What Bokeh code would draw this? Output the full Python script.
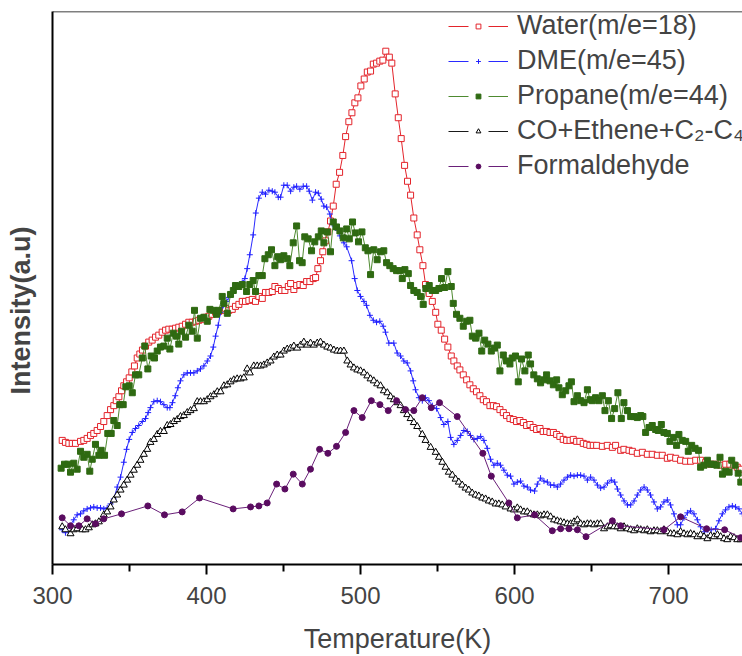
from bokeh.plotting import figure
from bokeh.models import (ColumnDataSource, FixedTicker, Range1d, Legend, LegendItem,
                          Title, Span)
from bokeh.embed import file_html
from bokeh.resources import INLINE

# ---------------- data (temperature in K, intensity in a.u.) ----------------
x_ticks = [300, 400, 500, 600, 700]
x_minor = [350, 450, 550, 650, 750]

water_T = [306.3, 308.4, 310.6, 312.8, 314.9, 318.2, 320.3, 322.5, 324.7, 326.8, 329.0, 331.2,
           333.3, 335.5, 337.7, 339.8, 341.4, 343.1, 344.8, 346.3, 348.1, 349.8, 351.5, 353.2,
           355.0, 356.7, 358.4, 360.4, 362.5, 364.7, 366.9, 369.0, 371.2, 373.4, 375.5, 377.7,
           379.9, 382.0, 384.2, 386.4, 388.5, 390.7, 392.9, 395.0, 397.2, 399.4, 401.5, 403.7,
           405.9, 408.0, 410.2, 412.3, 414.5, 416.7, 418.8, 421.0, 423.2, 425.3, 427.5, 429.7,
           431.8, 434.0, 436.2, 438.3, 440.5, 442.7, 444.4, 446.6, 448.7, 450.9, 453.1, 454.6,
           456.7, 458.5, 460.6, 462.8, 465.0, 467.1, 469.3, 470.8, 472.3, 474.0, 475.5, 477.3,
           478.8, 480.5, 482.3, 484.2, 486.4, 488.5, 490.3, 492.4, 494.4, 496.3, 498.3, 500.2,
           502.4, 504.4, 506.5, 508.3, 510.4, 512.5, 514.5, 516.4, 518.7, 520.3, 522.5, 524.5,
           526.4, 528.6, 530.5, 532.5, 534.6, 536.8, 538.5, 540.5, 542.2, 544.6, 546.6, 548.8,
           550.2, 552.4, 554.6, 556.7, 558.9, 560.6, 562.8, 564.5, 566.7, 568.9, 571.0, 573.2,
           575.3, 577.5, 579.7, 581.8, 584.0, 586.2, 588.3, 590.5, 592.7, 594.8, 597.0, 599.2,
           601.3, 603.5, 605.7, 607.8, 610.0, 612.1, 614.3, 616.5, 618.6, 620.8, 623.0, 625.2,
           627.3, 629.4, 631.6, 633.8, 636.0, 638.1, 640.3, 642.4, 644.6, 646.8, 648.9, 651.1,
           653.3, 657.0, 660.2, 663.5, 665.6, 668.9, 671.0, 674.3, 676.5, 679.7, 683.0, 686.2,
           689.4, 692.7, 695.9, 699.2, 701.3, 704.6, 707.8, 711.1, 714.3, 717.6, 720.8, 724.1,
           727.3, 730.6, 733.8, 737.1, 739.8, 742.4, 744.6, 747.2]
water_I = [125, 123, 122, 122, 122, 124, 125, 127, 130, 132, 135, 139,
           144, 150, 156, 160, 165, 169, 175, 180, 184, 188, 194, 200,
           208, 212, 216, 220, 224, 226, 229, 231, 234, 236, 237, 237,
           238, 239, 240, 242, 244, 244, 245, 246, 247, 249, 250, 252,
           254, 255, 256, 258, 256, 257, 260, 262, 265, 265, 266, 267,
           265, 270, 268, 274, 274, 275, 280, 278, 276, 276, 280, 283,
           277, 281, 282, 281, 285, 285, 288, 289, 298, 306, 315, 326,
           335, 346, 361, 383, 395, 412, 431, 446, 455, 465, 470, 482,
           489, 496, 497, 504, 505, 507, 508, 517, 511, 505, 474, 450,
           429, 402, 386, 372, 349, 332, 317, 301, 282, 273, 265, 254,
           242, 236, 227, 219, 210, 205, 200, 196, 191, 186, 181, 177,
           174, 170, 166, 164, 160, 160, 159, 156, 153, 150, 147, 146,
           144, 145, 143, 140, 141, 138, 136, 137, 134, 134, 133, 133,
           131, 129, 126, 125, 125, 126, 124, 124, 122, 121, 120, 120,
           120, 119, 120, 118, 120, 115, 116, 115, 114, 112, 113, 111,
           111, 110, 110, 107, 108, 107, 105, 104, 104, 105, 105, 103,
           101, 101, 100, 101, 101, 100, 98, 96]

dme_T = [306.3, 308.4, 313.8, 316.0, 318.2, 320.3, 322.5, 324.7, 326.8, 329.0, 331.2, 333.3,
         335.5, 337.7, 339.8, 342.0, 344.2, 346.3, 348.1, 349.8, 351.8, 353.9, 356.0, 358.3,
         360.4, 362.1, 363.6, 365.8, 368.0, 370.1, 372.3, 374.5, 376.2, 377.9, 379.7, 381.4,
         383.1, 385.3, 387.5, 389.6, 391.8, 394.0, 396.1, 398.3, 400.5, 402.6, 404.4, 405.9,
         407.6, 409.1, 410.9, 412.8, 414.5, 416.7, 418.8, 421.0, 423.2, 424.9, 426.4, 428.1,
         430.3, 432.0, 434.0, 436.2, 438.3, 440.5, 442.7, 444.4, 446.6, 448.1, 450.2, 452.4,
         454.6, 456.7, 458.5, 460.6, 462.8, 465.0, 466.7, 468.7, 470.8, 472.6, 474.5, 476.2,
         478.0, 480.1, 481.7, 483.8, 486.6, 489.2, 491.0, 494.2, 496.2, 497.9, 500.0, 502.2,
         503.9, 506.1, 508.3, 510.4, 512.5, 514.7, 516.2, 518.4, 521.6, 523.8, 526.0, 528.1,
         530.3, 532.5, 534.2, 535.7, 537.9, 540.1, 542.2, 544.4, 546.6, 549.4, 552.0, 554.1,
         556.7, 558.5, 560.6, 562.8, 565.0, 567.1, 569.3, 571.4, 573.6, 575.8, 578.0, 580.1,
         582.3, 584.4, 586.6, 588.8, 590.9, 593.1, 595.3, 597.4, 599.6, 601.8, 603.9, 606.1,
         608.3, 610.4, 613.0, 614.8, 616.9, 619.1, 621.3, 623.4, 625.6, 627.8, 629.9, 632.1,
         634.3, 636.4, 638.6, 640.8, 642.9, 645.1, 647.3, 649.4, 651.6, 653.8, 655.9, 658.1,
         660.3, 662.8, 665.0, 666.8, 668.9, 671.1, 673.3, 675.4, 677.6, 679.7, 681.9, 684.1,
         686.2, 688.3, 690.5, 692.7, 694.8, 697.0, 699.2, 701.3, 703.5, 705.7, 707.8, 710.0,
         712.2, 714.3, 716.5, 718.7, 720.8, 723.4, 725.5, 727.7, 730.5, 732.7, 734.9, 737.0,
         739.2, 741.4, 743.5, 745.7, 747.9]
dme_I = [35, 32, 45, 50, 51, 54, 56, 57, 58, 57, 57, 56,
         57, 61, 66, 78, 88, 103, 116, 126, 133, 137, 140, 144,
         147, 153, 158, 164, 165, 164, 161, 158, 158, 163, 170, 178,
         185, 191, 193, 193, 193, 195, 197, 200, 205, 210, 219, 230,
         241, 254, 261, 265, 269, 273, 277, 281, 284, 288, 298, 312,
         332, 354, 369, 375, 373, 377, 376, 375, 370, 370, 382, 382,
         376, 380, 381, 378, 381, 381, 376, 367, 375, 374, 368, 361,
         360, 353, 343, 339, 331, 324, 320, 306, 288, 276, 270, 265,
         261, 251, 246, 244, 245, 240, 234, 223, 223, 213, 210, 205,
         203, 195, 185, 176, 168, 165, 168, 165, 160, 157, 148, 141,
         144, 128, 121, 125, 130, 135, 134, 130, 126, 127, 129, 125,
         117, 106, 100, 102, 100, 95, 90, 89, 81, 83, 84, 79,
         78, 75, 74, 81, 87, 84, 83, 80, 80, 78, 81, 85,
         88, 90, 89, 90, 90, 89, 85, 88, 85, 80, 77, 78,
         82, 85, 83, 76, 70, 64, 60, 60, 64, 70, 75, 78,
         75, 70, 63, 56, 58, 63, 65, 60, 51, 40, 40, 47,
         52, 54, 51, 45, 38, 33, 35, 35, 36, 44, 51, 55,
         58, 59, 58, 56, 51]

propane_T = [305.6, 307.8, 309.9, 311.7, 313.8, 316.0, 318.2, 320.3, 322.5, 324.2, 325.8, 327.9,
             330.1, 331.6, 333.8, 335.9, 338.1, 339.8, 342.0, 343.7, 345.9, 347.6, 349.8, 351.8,
             353.9, 356.0, 358.3, 359.9, 361.9, 364.1, 366.2, 368.0, 370.1, 372.3, 374.5, 376.2,
             378.4, 380.5, 382.0, 383.8, 386.4, 388.5, 390.7, 392.2, 394.0, 396.1, 398.3, 400.5,
             402.2, 404.4, 406.5, 408.0, 410.2, 411.3, 413.5, 415.6, 417.4, 418.8, 421.0, 423.2,
             426.0, 428.1, 430.3, 431.8, 434.0, 436.2, 437.9, 440.1, 442.2, 444.4, 446.2, 448.1,
             450.2, 452.4, 454.1, 456.3, 458.5, 460.4, 462.1, 463.8, 466.0, 468.2, 470.3, 472.6,
             474.5, 476.2, 478.4, 480.5, 482.3, 484.4, 486.6, 488.8, 491.0, 492.7, 494.8, 496.6,
             498.7, 500.9, 503.1, 504.8, 506.5, 508.6, 510.8, 513.0, 515.1, 516.9, 519.0, 521.2,
             523.4, 525.5, 527.1, 528.8, 531.0, 532.5, 534.6, 536.8, 539.0, 540.7, 542.4, 544.6,
             546.6, 548.8, 550.9, 552.6, 554.6, 556.7, 558.9, 560.2, 562.3, 564.5, 566.7, 568.9,
             571.0, 572.6, 574.7, 576.9, 578.7, 580.6, 582.7, 584.9, 587.0, 588.8, 590.5, 592.7,
             594.8, 597.0, 598.5, 600.6, 602.4, 604.5, 606.7, 608.9, 610.4, 612.5, 614.8, 616.9,
             619.1, 620.8, 623.0, 625.2, 627.3, 628.8, 631.0, 633.2, 635.3, 636.9, 638.6, 640.8,
             642.9, 645.1, 647.3, 649.0, 650.5, 652.6, 654.8, 657.0, 658.7, 660.9, 663.0, 665.0,
             667.1, 669.3, 671.0, 673.3, 675.4, 677.6, 679.7, 681.9, 683.3, 685.1, 687.3, 689.4,
             691.6, 693.3, 695.3, 697.0, 699.2, 700.9, 703.1, 705.2, 706.7, 708.9, 711.1, 712.8,
             715.0, 717.2, 719.4, 720.8, 723.0, 725.2, 727.3, 729.5, 731.3, 733.4, 735.0, 737.1,
             739.3, 741.0, 743.2, 745.2, 746.9]
propane_I = [97, 101, 101, 93, 102, 96, 114, 108, 111, 94, 106, 121,
             110, 115, 110, 132, 132, 145, 140, 161, 161, 179, 180, 173,
             191, 191, 208, 220, 197, 210, 208, 215, 219, 220, 228, 217,
             233, 230, 222, 235, 229, 241, 235, 256, 228, 248, 249, 245,
             257, 256, 252, 256, 270, 263, 253, 272, 276, 281, 280, 282,
             275, 282, 286, 275, 291, 291, 308, 312, 317, 301, 310, 307,
             311, 308, 301, 324, 341, 306, 304, 330, 328, 316, 325, 330,
             336, 324, 335, 315, 345, 340, 336, 329, 338, 328, 345, 334,
             325, 335, 319, 316, 292, 317, 307, 315, 316, 304, 301, 298,
             296, 296, 288, 297, 293, 281, 276, 274, 270, 262, 278, 281,
             276, 276, 278, 288, 279, 295, 280, 263, 252, 248, 240, 245,
             246, 230, 228, 233, 215, 226, 222, 215, 218, 221, 195, 211,
             205, 202, 208, 210, 184, 207, 195, 211, 202, 191, 187, 183,
             186, 191, 185, 181, 186, 178, 171, 175, 180, 184, 164, 170,
             165, 163, 176, 166, 165, 168, 165, 170, 155, 165, 147, 157,
             173, 147, 163, 155, 149, 149, 148, 150, 149, 133, 138, 140,
             136, 135, 141, 133, 132, 124, 128, 120, 131, 125, 124, 114,
             120, 117, 115, 98, 100, 105, 101, 101, 100, 108, 91, 94,
             93, 105, 100, 92, 83]

co_T = [306.3, 308.4, 311.7, 313.8, 316.0, 319.3, 321.4, 323.6, 325.8, 327.9, 330.1, 333.3,
        335.5, 337.7, 339.8, 342.0, 344.2, 346.3, 348.5, 350.7, 352.8, 355.0, 357.1, 359.3,
        361.5, 363.6, 365.8, 368.0, 370.1, 372.3, 374.5, 376.6, 378.8, 381.0, 383.1, 385.3,
        387.5, 389.6, 391.8, 394.0, 396.1, 398.3, 400.5, 402.6, 404.8, 407.0, 409.1, 411.3,
        413.5, 415.6, 417.7, 419.9, 422.1, 424.2, 426.4, 428.1, 430.7, 432.9, 435.1, 437.2,
        439.4, 441.6, 443.7, 445.9, 448.1, 450.2, 452.4, 454.6, 456.7, 458.9, 461.1, 463.2,
        465.4, 467.5, 469.7, 471.9, 474.0, 476.2, 478.4, 480.5, 482.7, 484.9, 487.0, 489.2,
        491.4, 493.5, 495.7, 497.9, 500.0, 502.2, 504.4, 506.5, 508.6, 510.8, 513.0, 515.1,
        517.4, 519.5, 521.6, 523.8, 526.0, 528.1, 530.3, 532.5, 534.6, 536.8, 540.1, 542.2,
        545.5, 548.8, 550.9, 553.1, 555.2, 557.3, 559.6, 561.7, 563.8, 566.0, 568.2, 570.3,
        572.5, 574.7, 576.8, 579.0, 581.2, 583.3, 585.5, 587.7, 589.8, 592.0, 594.2, 597.4,
        599.6, 601.8, 603.9, 606.1, 608.3, 610.4, 612.6, 614.8, 616.9, 619.1, 621.3, 623.4,
        625.6, 627.8, 629.9, 632.1, 634.3, 636.4, 638.6, 640.8, 642.9, 645.1, 647.3, 649.4,
        651.6, 653.8, 655.9, 658.1, 660.3, 662.4, 664.6, 666.8, 668.9, 671.1, 673.3, 675.4,
        677.6, 679.7, 681.9, 684.1, 686.2, 688.3, 690.5, 692.7, 694.8, 697.0, 699.2, 701.3,
        703.5, 705.7, 707.8, 710.0, 712.2, 714.3, 716.5, 718.7, 720.8, 723.0, 725.2, 727.3,
        729.5, 731.7, 733.8, 736.0, 738.1, 740.3, 742.5, 744.6, 746.8]
co_I = [38, 35, 31, 35, 36, 35, 35, 37, 40, 41, 43, 50,
        53, 58, 65, 70, 75, 80, 85, 90, 95, 100, 105, 111,
        116, 123, 126, 131, 134, 134, 140, 141, 144, 146, 149, 150,
        153, 155, 157, 164, 164, 164, 166, 169, 171, 174, 174, 180,
        181, 184, 186, 187, 187, 188, 197, 193, 200, 200, 200, 201,
        203, 205, 209, 211, 211, 215, 217, 218, 220, 218, 221, 224,
        221, 223, 221, 223, 224, 221, 219, 218, 216, 215, 215, 215,
        205, 201, 198, 196, 195, 193, 190, 187, 185, 182, 180, 175,
        173, 169, 166, 163, 160, 155, 151, 147, 143, 139, 131, 125,
        118, 113, 108, 103, 98, 93, 90, 86, 83, 80, 77, 75,
        72, 70, 69, 67, 66, 64, 63, 61, 61, 60, 58, 56,
        55, 57, 55, 53, 53, 51, 50, 50, 49, 50, 50, 48,
        45, 44, 43, 42, 41, 41, 43, 45, 41, 40, 41, 41,
        40, 41, 41, 36, 38, 39, 38, 38, 36, 38, 36, 35,
        34, 36, 35, 34, 35, 33, 34, 34, 33, 35, 33, 31,
        31, 30, 33, 31, 30, 31, 30, 28, 30, 28, 26, 29,
        28, 30, 28, 26, 25, 28, 27, 25, 25]

form_T = [306.3, 311.7, 317.1, 322.5, 327.9, 333.3, 344.8, 361.9, 372.7, 384.2, 395.5, 417.3,
          428.6, 434.0, 439.4, 445.5, 450.9, 456.3, 462.2, 467.5, 473.4, 478.8, 484.4, 490.3,
          495.7, 501.1, 507.0, 512.6, 518.0, 523.4, 529.2, 534.6, 540.1, 545.9, 551.3, 562.8,
          579.4, 584.9, 596.3, 601.8, 613.0, 624.5, 629.9, 635.3, 640.8, 646.4, 663.5, 668.9,
          697.0, 707.8, 724.7, 736.4, 746.8]
form_I = [47, 39, 39, 46, 41, 46, 51, 59, 50, 53, 67, 56,
          58, 59, 62, 81, 76, 91, 81, 96, 116, 112, 119, 133,
          155, 148, 165, 161, 155, 165, 156, 155, 168, 158, 163, 149,
          112, 89, 62, 47, 50, 34, 36, 36, 35, 28, 44, 39,
          35, 48, 36, 35, 27]

series = [
    dict(name="Water(m/e=18)", T=water_T, I=water_I, marker="square", mcolor="#e3242b",
         lcolor="#e3242b", fill="white", size=6),
    dict(name="DME(m/e=45)", T=dme_T, I=dme_I, marker="cross", mcolor="#1f1fff",
         lcolor="#2a2aff", fill=None, size=6),
    dict(name="Propane(m/e=44)", T=propane_T, I=propane_I, marker="square", mcolor="#2f6a12",
         lcolor="#4e8a30", fill="#2f6a12", size=6),
    dict(name="CO+Ethene+C\u2082-C\u2084", T=co_T, I=co_I, marker="triangle", mcolor="#000000",
         lcolor="#1a1a1a", fill="white", size=7),
    dict(name="Formaldehyde", T=form_T, I=form_I, marker="circle", mcolor="#5a0c60",
         lcolor="#6a2079", fill="#5a0c60", size=6),
]

FONT = "Liberation Sans"

p = figure(width=742, height=656, output_backend="svg", toolbar_location=None,
           x_range=Range1d(300, 748), y_range=Range1d(0, 557),
           min_border_left=52, min_border_right=0, min_border_top=11, min_border_bottom=88)
p.grid.visible = False
p.outline_line_color = None

xa = p.xaxis[0]
xa.ticker = FixedTicker(ticks=x_ticks, minor_ticks=x_minor)
xa.axis_label = "Temperature(K)"
xa.axis_label_text_font = FONT
xa.axis_label_text_font_size = "27px"
xa.axis_label_text_font_style = "normal"
xa.axis_label_standoff = 17
xa.major_label_text_font = FONT
xa.major_label_text_font_size = "24px"
xa.major_label_standoff = 12
xa.axis_line_width = 2
xa.major_tick_line_width = 2
xa.minor_tick_line_width = 2
xa.major_tick_out = 10
xa.major_tick_in = 0
xa.minor_tick_out = 7
xa.minor_tick_in = 0

# y axis: plain line, no visible ticks or labels (one hidden tick only reserves space)
ya = p.yaxis[0]
ya.ticker = FixedTicker(ticks=[0], minor_ticks=[])
ya.major_label_overrides = {0: ""}
ya.major_label_text_font_size = "0px"
ya.major_tick_line_color = None
ya.minor_tick_line_color = None
ya.major_tick_out = 14
ya.major_tick_in = 0
ya.minor_tick_out = 0
ya.major_label_standoff = 0
ya.axis_line_width = 2

# y-axis title: a left-side title starting just below the frame middle
p.add_layout(Title(text="Intensity(a.u)", align="left", offset=170, standoff=6,
                   text_font=FONT, text_font_size="27px", text_font_style="bold"), "left")

p.add_layout(Span(location=557, dimension="width", line_color="black", line_width=1.5))

items = []
for s in series:
    src = ColumnDataSource(data=dict(T=s["T"], I=s["I"]))
    p.line("T", "I", source=src, line_color=s["lcolor"], line_width=1)
    mr = p.scatter("T", "I", source=src, marker=s["marker"], size=s["size"],
                   line_color=s["mcolor"], fill_color=s["fill"], line_width=1)
    leg_line = p.line("T", "I", source=src, line_color=s["lcolor"], line_width=1,
                      line_dash="20 20", visible=False)
    items.append(LegendItem(label=s["name"], renderers=[leg_line, mr]))

legend = Legend(items=items, location=(396, 383), glyph_width=60, glyph_height=12,
                label_height=31, spacing=4, padding=0, margin=0, label_standoff=9,
                label_text_font=FONT, label_text_font_size="27px",
                border_line_color=None, background_fill_alpha=0)
p.add_layout(legend)

open("out.html", "w").write(file_html(p, INLINE))
